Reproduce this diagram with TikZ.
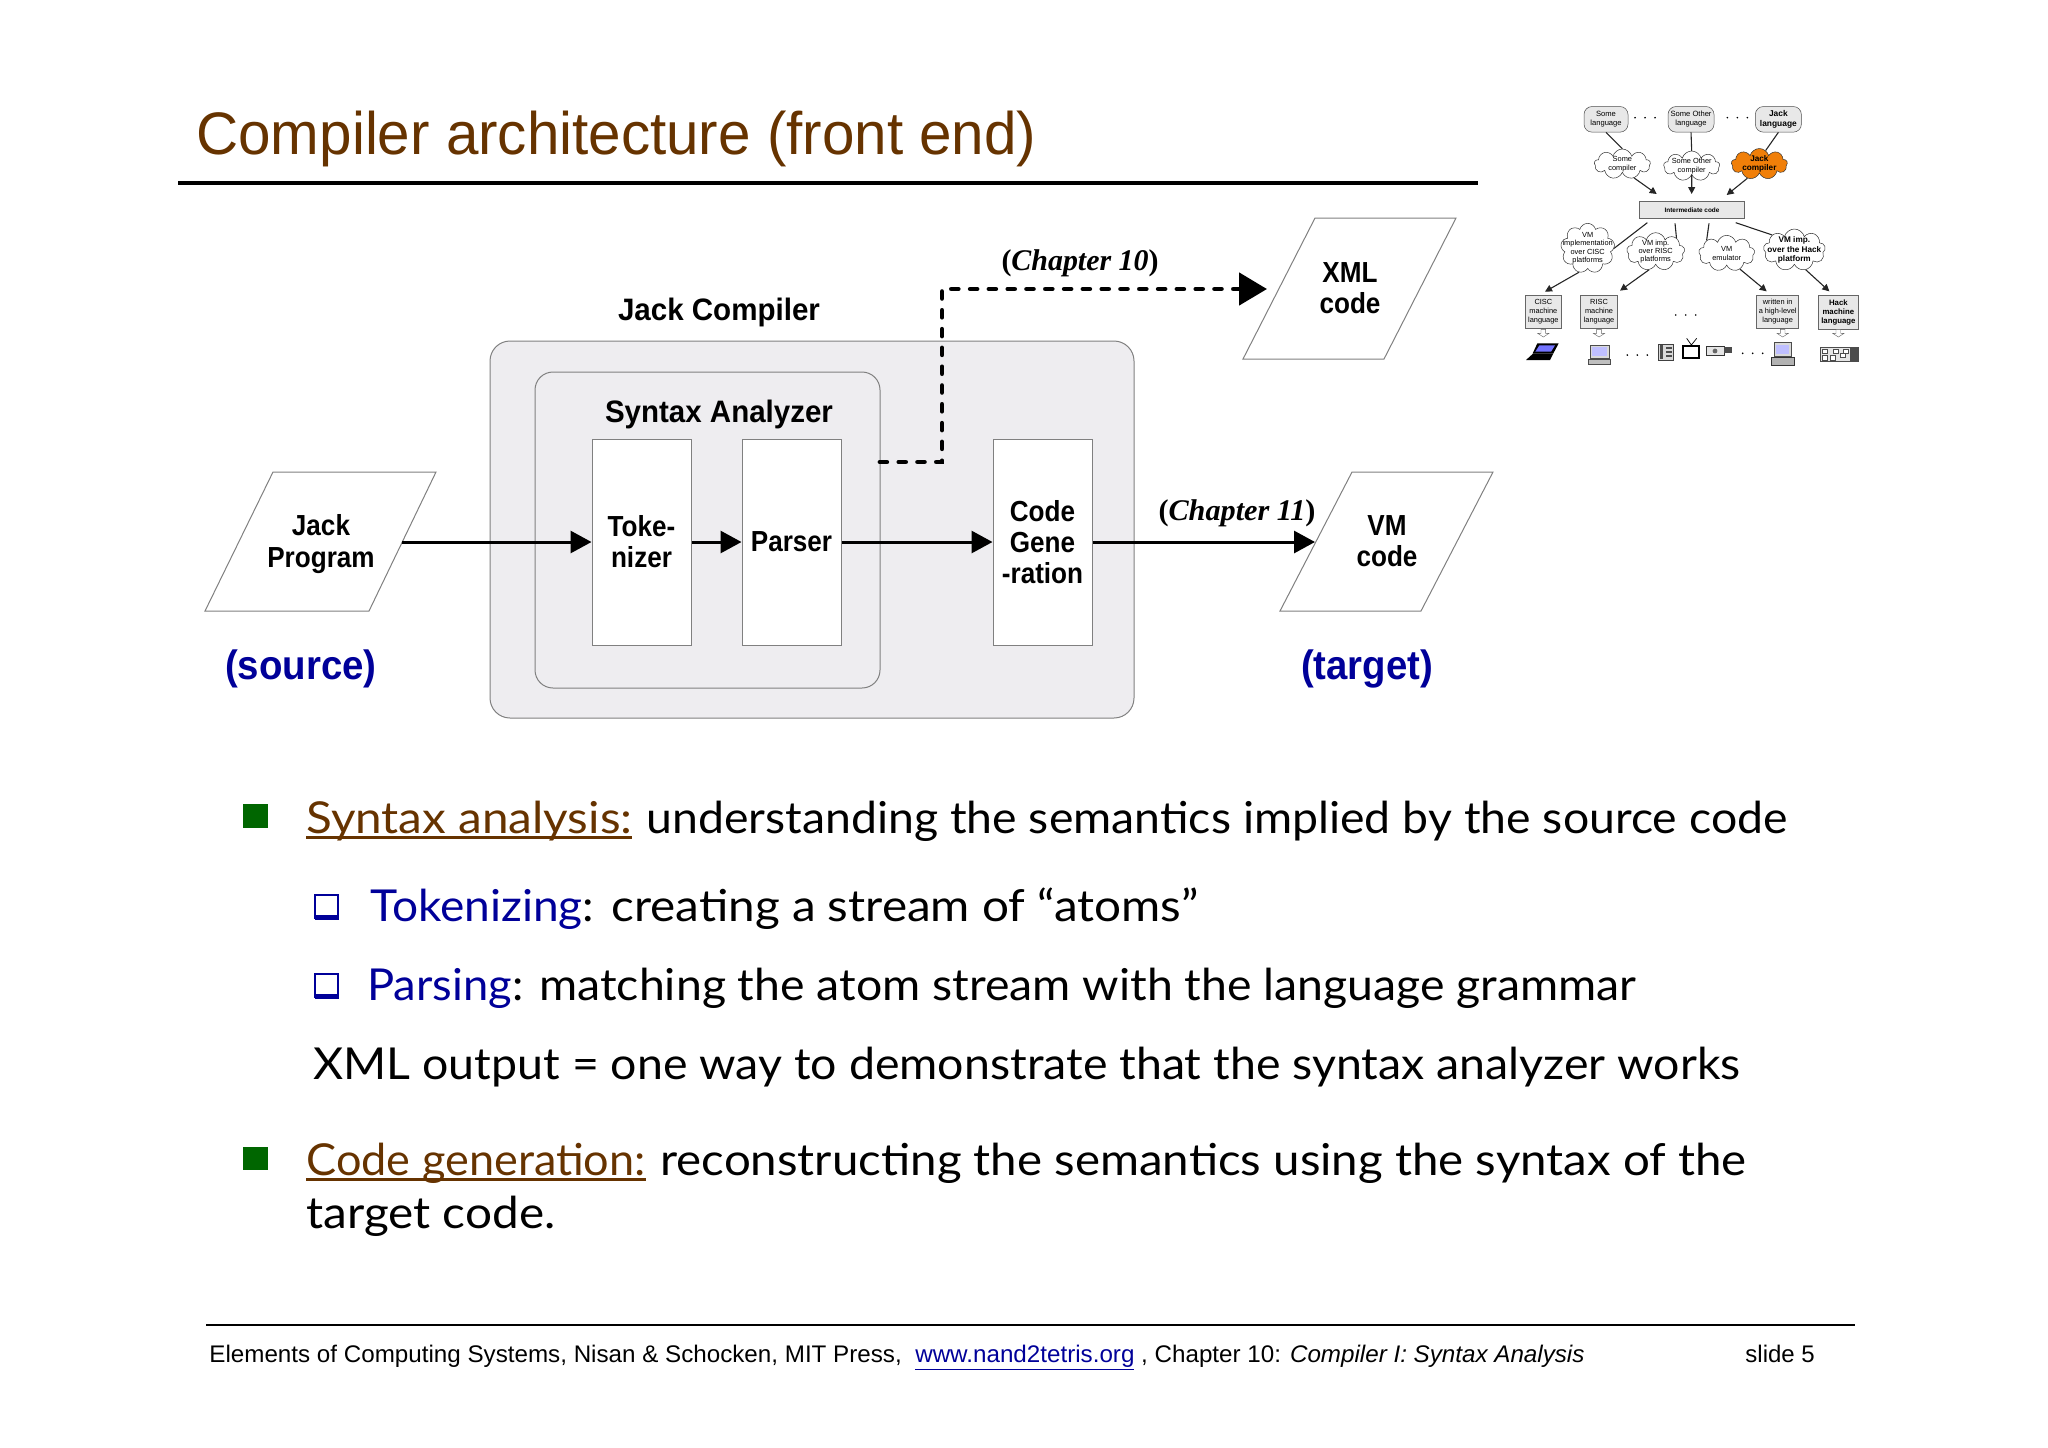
\documentclass[tikz,border=0pt]{standalone}
\usepackage{fontspec}
\usepackage{graphicx}
\setmainfont{Liberation Sans}
\newfontfamily\comic{Lato}
\newfontfamily\timesf{Liberation Serif}
\usetikzlibrary{arrows.meta,shapes.symbols}
\definecolor{brownc}{HTML}{663300}
\definecolor{bluec}{HTML}{000099}
\definecolor{greenc}{HTML}{006600}
\definecolor{panel}{HTML}{EEEDF0}
\definecolor{edgec}{HTML}{808080}
\definecolor{orangec}{HTML}{F07F09}
\newcommand\fitw[2]{\resizebox{#1}{\height}{#2}}
\newcommand\nar[1]{\scalebox{.9}[1]{#1}}
\newcommand\ulin[1]{\setbox0\hbox{#1}\rlap{\rule[-2.8pt]{\wd0}{1.4pt}}\box0}
\tikzset{
  panelbox/.style={draw=edgec,fill=panel,line width=.5pt,rounded corners=10pt},
  stagebox/.style={draw=edgec,fill=white,line width=.5pt,inner sep=0pt,align=center,minimum width=49.5pt,minimum height=103pt,font=\bfseries\fontsize{14.5}{15.6}\selectfont},
  filebox/.style={draw=edgec,fill=white,line width=.5pt},
  lbl/.style={inner sep=0pt,align=center,font=\bfseries\fontsize{14.5}{15.6}\selectfont},
  bigblue/.style={inner sep=0pt,text=bluec,font=\bfseries\fontsize{20.5}{22}\selectfont},
  chap/.style={inner sep=0pt,font=\timesf\fontsize{15}{16}\selectfont},
  flow/.style={line width=1.5pt,-{Triangle[length=10.5pt,width=11pt]}},
  dashflow/.style={line width=2.4pt,dash pattern=on 3.4pt off 6pt,line cap=round,-{Triangle[length=14pt,width=16pt]}},
  bodyl/.style={inner sep=0pt,anchor=base west,font=\comic\fontsize{22}{24}\selectfont},
  footl/.style={inner sep=0pt,anchor=base west,font=\fontsize{12}{14}\selectfont},
  thumbline/.style={line width=.55pt,black!85},
  thumbarrow/.style={line width=.55pt,black!85,-{Triangle[length=3.5pt,width=3.5pt]}},
  lang/.style={draw=black!70,fill=black!9,rounded corners=4pt,line width=.25pt,inner sep=0pt,align=center,minimum width=22pt,minimum height=12.8pt,font=\fontsize{3.8}{4.4}\selectfont},
  cloudn/.style={shape=cloud,cloud puffs=9,cloud ignores aspect,draw=black!80,fill=white,line width=.25pt,inner sep=0pt},
  cloudt/.style={inner sep=0pt,align=center,font=\fontsize{3.7}{4.2}\selectfont},
  cloudb/.style={inner sep=0pt,align=center,font=\bfseries\fontsize{4.1}{4.6}\selectfont},
  mbox/.style={draw=black!60,fill=black!9,line width=.25pt,inner sep=0pt,align=center,font=\fontsize{3.7}{4.3}\selectfont},
  hollow/.style={draw=black!60,fill=white,line width=.2pt}
}
\begin{document}
\begin{tikzpicture}[x=.5pt,y=-.5pt]
\useasboundingbox (0,0) rectangle (2048,1447);
% title
\node[inner sep=0pt,anchor=base west,text=brownc,font=\fontsize{30}{32}\selectfont] (title) at (196,154) {\fitw{420pt}{Compiler architecture (front end)}};
\coordinate (tl) at (178,183); \coordinate (tr) at (1478,183);
\draw[line width=2.2pt] (tl) -- (tr);
% compiler panels
\draw[panelbox] (490,341) rectangle (1134,718);
\draw[panelbox,rounded corners=9pt] (535,372) rectangle (880,688);
\node[lbl,font=\bfseries\fontsize{15.5}{16}\selectfont] (jc) at (719,312) {\fitw{101pt}{Jack Compiler}};
\node[lbl,font=\bfseries\fontsize{15.5}{16}\selectfont] (sa) at (719,414) {\fitw{114pt}{Syntax Analyzer}};
\node[stagebox] (tok) at (641.5,542) {\nar{Toke-}\\\nar{nizer}};
\node[stagebox] (par) at (791.5,542) {\nar{Parser}};
\node[stagebox] (gen) at (1042.5,542) {\nar{Code}\\\nar{Gene}\\\nar{-ration}};
% files
\draw[filebox] (273,472) -- (436,472) -- (369,611) -- (205,611) -- cycle;
\node[lbl] (jp) at (321,544) {\nar{Jack}\\\nar{Program}};
\draw[filebox] (1352,472) -- (1493,472) -- (1421,611) -- (1280,611) -- cycle;
\node[lbl] (vm) at (1387,541) {\nar{VM}\\\nar{code}};
\draw[filebox] (1315,218) -- (1456,218) -- (1384,359) -- (1243,359) -- cycle;
\node[lbl] (xml) at (1350,288) {\nar{XML}\\\nar{code}};
\node[bigblue] (src) at (301,669) {\fitw{75.8pt}{(source)}};
\node[bigblue] (tgt) at (1367,669) {\fitw{66pt}{(target)}};
\node[chap] (c10) at (1080,263) {\fitw{78.5pt}{\textbf{(\textit{Chapter 10})}}};
\node[chap] (c11) at (1237,513) {\fitw{78.5pt}{\textbf{(\textit{Chapter 11})}}};
% arrows
\coordinate (jpout) at (402,542);
\coordinate (vmin) at (1315,542);
\coordinate (sao) at (880,462);
\coordinate (dbend) at (942,462);
\coordinate (dtop) at (942,289);
\coordinate (xmlin) at (1267,289);
\draw[flow] (jpout) -- (tok.west);
\draw[flow] (tok.east) -- (par.west);
\draw[flow] (par.east) -- (gen.west);
\draw[flow] (gen.east) -- (vmin);
\draw[dashflow] (sao) -- (dbend) -- (dtop) -- (xmlin);
% body text
\fill[greenc] (243,804) rectangle (268,828);
\node[bodyl] (l1a) at (306,833) {\fitw{163pt}{\textcolor{brownc}{\ulin{Syntax analysis:}}}};
\node[bodyl] (l1b) at (646,833) {\fitw{570.5pt}{understanding the semantics implied by the source code}};
\draw[bluec,line width=.8pt,fill=white] (315,895) rectangle (338,918);
\fill[bluec] (315,915) rectangle (339,920);
\node[bodyl] (l2a) at (370,921) {\fitw{112pt}{\textcolor{bluec}{Tokenizing}:}};
\node[bodyl] (l2b) at (611,921) {\fitw{293.5pt}{creating a stream of “atoms”}};
\draw[bluec,line width=.8pt,fill=white] (315,974) rectangle (338,997);
\fill[bluec] (315,994) rectangle (339,999);
\node[bodyl] (l3a) at (367,1000) {\fitw{78pt}{\textcolor{bluec}{Parsing}:}};
\node[bodyl] (l3b) at (539,1000) {\fitw{548.5pt}{matching the atom stream with the language grammar}};
\node[bodyl] (l4) at (313,1079) {\fitw{713.5pt}{XML output = one way to demonstrate that the syntax analyzer works}};
\fill[greenc] (243,1147) rectangle (268,1170);
\node[bodyl] (l5a) at (306,1175) {\fitw{169.7pt}{\textcolor{brownc}{\ulin{Code generation:}}}};
\node[bodyl] (l5b) at (660,1175) {\fitw{543pt}{reconstructing the semantics using the syntax of the}};
\node[bodyl] (l6) at (306,1228) {\fitw{124.5pt}{target code.}};
% footer
\coordinate (fl) at (206,1325); \coordinate (fr) at (1855,1325);
\draw[line width=1.1pt] (fl) -- (fr);
\node[footl] (foot) at (209,1362) {\fitw{687.5pt}{Elements of Computing Systems, Nisan \& Schocken, MIT Press,\ \ \textcolor{bluec}{\underline{www.nand2tetris.org}} , Chapter 10: \textit{Compiler I: Syntax Analysis}}};
\node[footl] (slide) at (1745,1362) {slide 5};
% thumbnail: coordinates are 3x crop pixels from (1500,90)
\begin{scope}[shift={(1500,90)},x=.16667pt,y=-.16667pt]
\node[lang] (a1) at (318,88) {Some\\language};
\node[lang,minimum width=23pt] (a2) at (573,88) {Some Other\\language};
\node[lang,minimum width=23pt,font=\bfseries\fontsize{4.2}{4.8}\selectfont] (a3) at (835,88) {Jack\\language};
\node[cloudn,minimum width=28pt,minimum height=15pt] (c1) at (367,222) {};
\node[cloudt] (c1t) at (c1) {Some\\compiler};
\node[cloudn,minimum width=28pt,minimum height=15pt] (c2) at (575,228) {};
\node[cloudt] (c2t) at (c2) {Some Other\\compiler};
\node[cloudn,fill=orangec,minimum width=28pt,minimum height=15.5pt] (c3) at (778,222) {};
\node[cloudb] (c3t) at (c3) {Jack\\compiler};
\node[mbox,minimum width=52.5pt,minimum height=8.3pt,font=\bfseries\fontsize{3.2}{4}\selectfont] (im) at (576,360) {Intermediate code};
\node[cloudn,minimum width=27pt,minimum height=25pt] (v1) at (263,475) {};
\node[cloudt] (v1t) at (v1) {VM\\implementation\\over CISC\\platforms};
\node[cloudn,minimum width=29pt,minimum height=19pt] (v2) at (467,485) {};
\node[cloudt] (v2t) at (v2) {VM imp.\\over RISC\\platforms};
\node[cloudn,minimum width=28pt,minimum height=18pt] (v3) at (680,490) {};
\node[cloudt] (v3t) at (v3) {VM\\emulator};
\node[cloudn,minimum width=31pt,minimum height=21pt] (v4) at (883,480) {};
\node[cloudb] (v4t) at (v4) {VM imp.\\over the Hack\\platform};
\node[mbox,minimum width=18.3pt,minimum height=16.7pt] (b1) at (130,665) {CISC\\machine\\language};
\node[mbox,minimum width=18.3pt,minimum height=16.7pt] (b2) at (297,665) {RISC\\machine\\language};
\node[mbox,minimum width=21pt,minimum height=16.7pt] (b3) at (833,665) {written in\\a high-level\\language};
\node[mbox,minimum width=20pt,minimum height=17.2pt,font=\bfseries\fontsize{3.9}{4.5}\selectfont] (b4) at (1015,667) {Hack\\machine\\language};
\coordinate (i1) at (470,312); \coordinate (i2) at (575,312); \coordinate (i3) at (680,315);
\coordinate (t1) at (442,398); \coordinate (t2) at (525,400); \coordinate (t3) at (627,400); \coordinate (t4) at (707,398);
\coordinate (e1) at (135,605); \coordinate (e2) at (360,602); \coordinate (e3) at (800,604); \coordinate (e4) at (988,604);
\draw[thumbline] (a1.south) -- (c1.north);
\draw[thumbline] (a2.south) -- (c2.north);
\draw[thumbline] (a3.south) -- (c3.65);
\draw[thumbarrow] (c1.-50) -- (i1);
\draw[thumbarrow] (c2.south) -- (i2);
\draw[thumbarrow] (c3.-130) -- (i3);
\draw[thumbline] (t1) -- (v1.east);
\draw[thumbline] (t2) -- (v2.north east);
\draw[thumbline] (t3) -- (v3.north west);
\draw[thumbline] (t4) -- (v4.north west);
\draw[thumbarrow] (v1.250) -- (e1);
\draw[thumbarrow] (v2.250) -- (e2);
\draw[thumbarrow] (v3.-50) -- (e3);
\draw[thumbarrow] (v4.-60) -- (e4);
% dots
\foreach \x/\y in {405/83,435/83,465/83,682/83,712/83,742/83,527/675,557/675,587/675,382/795,412/795,442/795,728/790,758/790,788/790}
  \fill (\x,\y) circle (.45pt);
% hollow arrows
\foreach \x in {130,297,848,1015}
  \draw[hollow] (\x-7,718) -- (\x+7,718) -- (\x+7,730) -- (\x+17,730) -- (\x,741) -- (\x-17,730) -- (\x-7,730) -- cycle;
% laptop
\fill[black] (78,810) -- (100,790) -- (160,790) -- (150,810) -- cycle;
\fill[black] (112,760) -- (176,760) -- (160,790) -- (98,790) -- cycle;
\fill[blue!55!white] (118,766) -- (165,766) -- (153,785) -- (106,785) -- cycle;
% monitor 1
\draw[black!70,fill=black!15,line width=.3pt] (270,765) rectangle (328,805);
\fill[blue!25!white] (277,772) rectangle (320,798);
\draw[black!70,fill=black!25,line width=.3pt] (266,808) rectangle (332,822);
% phone
\draw[black!75,fill=black!15,line width=.3pt] (475,762) rectangle (520,810);
\fill[black!70] (480,766) rectangle (490,806);
\foreach \y in {770,782,794} \fill[black!70] (497,\y) rectangle (515,\y+7);
% TV
\draw[black,line width=.35pt] (560,745) -- (574,765) -- (590,745);
\draw[black,line width=1pt,fill=white] (550,767) rectangle (597,803);
% camcorder
\draw[black!80,fill=black!10,line width=.35pt] (620,768) rectangle (672,795);
\fill[black!70] (672,772) rectangle (696,790);
\fill[black!60] (645,783) circle (1.2pt);
% computer 2
\draw[black!70,fill=black!15,line width=.3pt] (822,758) rectangle (875,800);
\fill[blue!25!white] (829,766) rectangle (866,792);
\draw[black!80,fill=black!30,line width=.3pt] (815,803) rectangle (882,825);
% hack board
\draw[black!70,fill=black!10,line width=.3pt] (960,772) rectangle (1065,815);
\fill[black!70] (1050,772) rectangle (1078,815);
\foreach \x/\y in {966/778,966/797,990/797,1000/778,1020/790,1030/778}
  \draw[black!70,fill=white,line width=.25pt] (\x,\y) rectangle (\x+15,\y+13);
\end{scope}
\end{tikzpicture}
\end{document}
